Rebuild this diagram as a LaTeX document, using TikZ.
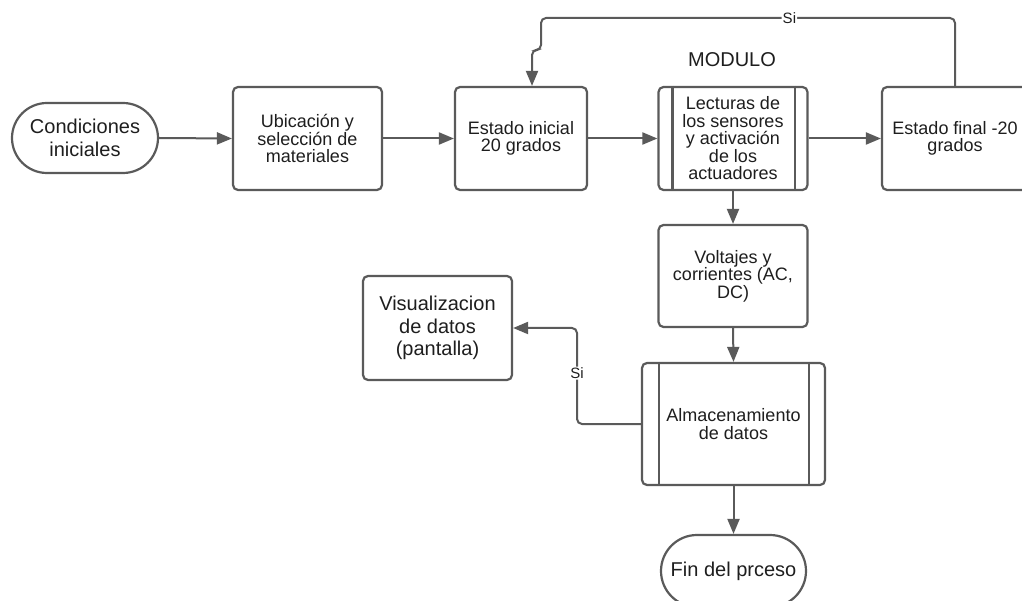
\documentclass[tikz,border=0pt]{standalone}
\usepackage{fontspec}
\setmainfont{Liberation Sans}
\usetikzlibrary{arrows.meta,shapes.misc,calc}
\definecolor{edge}{HTML}{5A5A5A}
\definecolor{ink}{HTML}{1E1E1E}

\begin{document}
\begin{tikzpicture}[x=1pt,y=-1pt,
  base/.style={draw=edge, line width=2.2pt, text=ink, align=center, inner sep=2pt},
  procbox/.style={base, rectangle, rounded corners=5pt, minimum width=149pt,
    minimum height=103pt, font=\fontsize{18}{17.5}\selectfont},
  terminal/.style={base, rounded rectangle, font=\fontsize{20}{23}\selectfont},
  flow/.style={draw=edge, line width=2pt, -{Triangle[length=15pt,width=12pt]}},
  tag/.style={fill=white, text=ink, font=\fontsize{15}{15}\selectfont, inner sep=1pt},
  bar/.style={draw=edge, line width=2.2pt}
]
\useasboundingbox (0,0) rectangle (1022,601);
\fill[white] (0,0) rectangle (1022,601);
\clip (0,0) rectangle (1022,601);

% main row
\node[terminal, minimum width=150pt, minimum height=70pt] (ci) at (85,138) {Condiciones\\iniciales};
\node[procbox] (ub) at (307.5,138.5) {Ubicación y\\selección de\\materiales};
\node[procbox, minimum width=132pt] (ei) at (521,138.5) {Estado inicial\\20 grados};
\node[procbox] (le) at (733,138.5) {Lecturas de\\los sensores\\y activación\\de los\\actuadores};
\node[procbox, minimum width=146pt] (ef) at (955,138.5) {Estado final -20\\grados};
\node[text=ink, font=\fontsize{20}{20}\selectfont] (mod) at (732,60) {MODULO};

% lower column
\node[procbox, minimum height=102pt] (vo) at (733,276) {Voltajes y\\corrientes (AC,\\DC)};
\node[procbox, minimum width=183pt, minimum height=122pt] (al) at (733.5,424) {Almacenamiento\\de datos};
\node[procbox, minimum height=104pt, font=\fontsize{20}{22.5}\selectfont] (vi) at (437.5,328) {Visualizacion\\de datos\\(pantalla)};
\node[terminal, minimum width=149pt, minimum height=72pt] (fin) at (733.5,571) {Fin del prceso};

% side bars of the predefined-process boxes
\draw[bar] ([xshift=15pt]le.north west) -- ([xshift=15pt]le.south west);
\draw[bar] ([xshift=-14pt]le.north east) -- ([xshift=-14pt]le.south east);
\draw[bar] ([xshift=18pt]al.north west) -- ([xshift=18pt]al.south west);
\draw[bar] ([xshift=-17pt]al.north east) -- ([xshift=-17pt]al.south east);

% connectors
\draw[flow] (ci.east) -- (ub.west);
\draw[flow] (ub.east) -- (ei.west);
\draw[flow] (ei.east) -- (le.west);
\draw[flow] (le.east) -- (ef.west);
\draw[flow] (le.south) -- (vo.north);
\draw[flow] (vo.south) -- (al.north);
\draw[flow] (al.south) -- (fin.north);

% feedback loop back to the initial state
\coordinate (up) at (955,18);
\coordinate (lc) at (541,18);
\coordinate (jog) at (541,50);
\coordinate (in) at ($(ei.north)+(11,0)$);
\draw[flow, rounded corners=5pt] (ef.north) -- (up) -- node[tag, pos=0.4] {Si} (lc) -- (jog) -| (in);

% storage to display
\coordinate (bend) at (577,424);
\draw[flow, rounded corners=5pt] (al.west) -- (bend) -- node[tag, pos=0.53] {Si} (bend |- vi.east) -- (vi.east);
\end{tikzpicture}
\end{document}
